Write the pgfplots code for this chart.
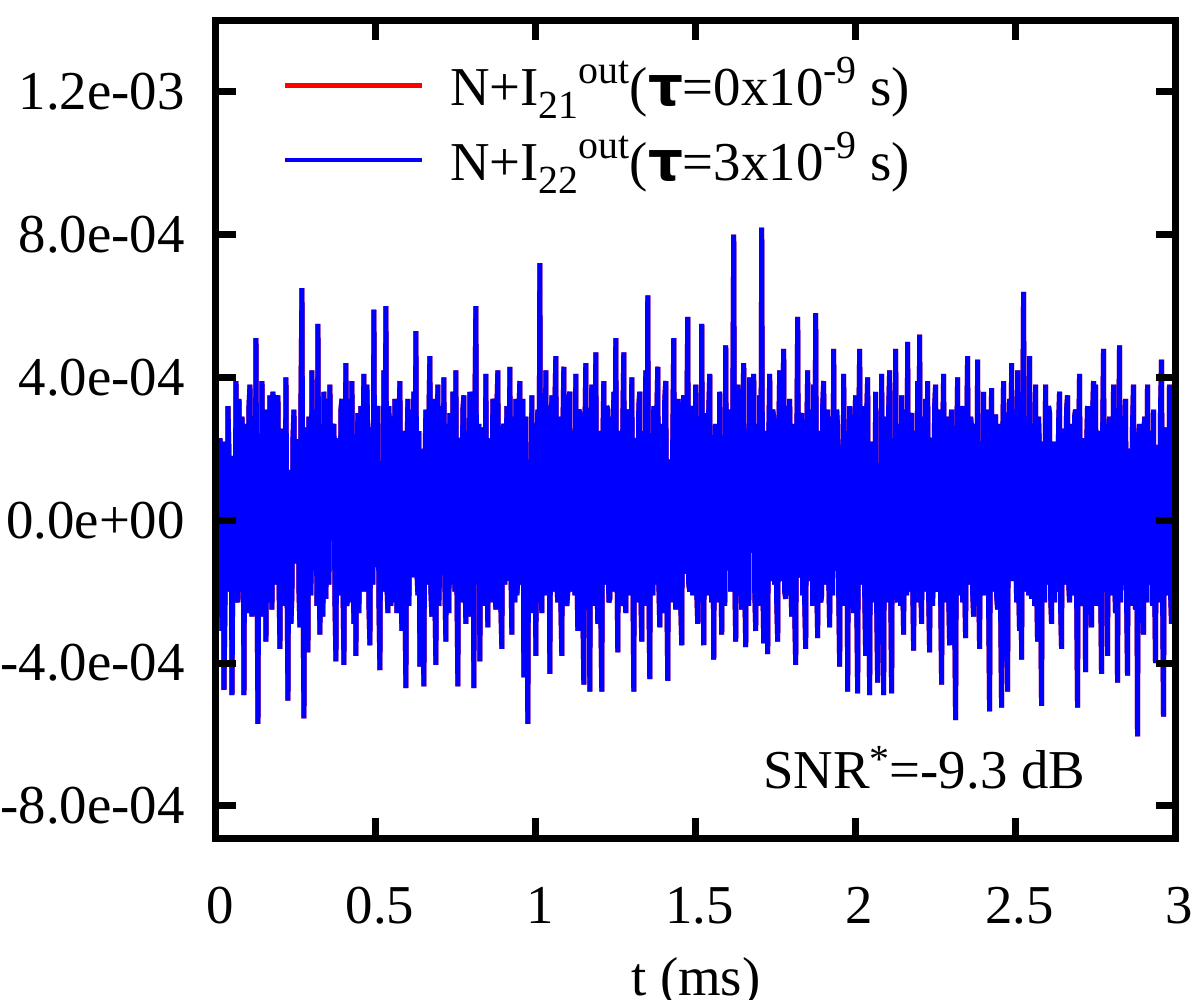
\documentclass[border=0pt]{standalone}
\usepackage{pgfplots}
\usepackage{pgfplotstable}
\pgfplotsset{compat=1.18}
\usepackage{fontspec}
\setmainfont{Liberation Serif}
\newfontfamily\taufont{DejaVu Sans}
\newcommand\lsub[1]{\raisebox{-6.5bp}{\fontsize{20}{20}\selectfont #1}}
\newcommand\lsup[1]{\raisebox{11bp}{\fontsize{20}{20}\selectfont #1}}
\newcommand\tauc{{\taufont\bfseries τ}}

\pgfplotstableread[row sep=\\]{y\\
3.4\\ -1.2\\ -1.6\\ 0.9\\ 2.3\\ -1.5\\ -3.1\\ 2.2\\ -4.75\\ -2.4\\ 1.2\\ -2.0\\ 3.2\\ 1.8\\ -0.8\\ 1.6\\ -4.9\\ -0.6\\ 1.8\\ -1.7\\
3.9\\ -2.1\\ -2.3\\ 3.4\\ 0.5\\ -1.8\\ 2.9\\ 1.1\\ -4.9\\ 2.7\\ 1.4\\ -2.6\\ -1.0\\ 3.2\\ 3.8\\ -1.4\\ -2.7\\ 2.9\\ 0.4\\ -2.3\\
5.1\\ -1.5\\ -5.7\\ 1.3\\ 2.1\\ -2.7\\ 3.9\\ 0.7\\ -1.8\\ 3.1\\ -3.4\\ 2.3\\ 1.0\\ -2.3\\ 3.5\\ -0.5\\ -2.5\\ 3.6\\ 1.6\\ -1.8\\
-0.7\\ 3.2\\ 3.5\\ -1.7\\ -3.6\\ 2.5\\ 2.5\\ -2.4\\ 0.3\\ -1.5\\ 4.0\\ -1.4\\ -5.05\\ 1.4\\ 1.3\\ -2.9\\ -2.1\\ 2.3\\ 3.1\\ -1.1\\
-1.2\\ 2.2\\ 2.2\\ -2.0\\ -3.0\\ 3.4\\ 6.5\\ -1.8\\ -5.55\\ 1.6\\ 2.6\\ -1.2\\ -3.7\\ 2.9\\ 0.8\\ -2.1\\ 4.2\\ -0.9\\ -1.4\\ 3.1\\
2.0\\ -2.4\\ 5.5\\ -1.1\\ -3.2\\ 2.7\\ 0.1\\ -2.7\\ 3.6\\ -0.8\\ -2.2\\ 3.4\\ 1.7\\ -1.8\\ 3.8\\ -0.5\\ -0.5\\ 2.5\\ 2.7\\ -2.3\\
-3.95\\ 1.1\\ 2.3\\ -2.1\\ -0.9\\ 3.1\\ 3.4\\ -1.7\\ -4.05\\ 1.4\\ 4.4\\ -2.4\\ -1.7\\ 3.4\\ 1.2\\ -2.3\\ 3.9\\ -1.1\\ -2.9\\ 2.3\\
-3.8\\ 1.6\\ 3.0\\ -2.6\\ 0.7\\ 3.2\\ -2.0\\ 2.0\\ 4.1\\ -2.0\\ -0.3\\ 3.8\\ 2.1\\ -2.4\\ -3.5\\ 1.3\\ 2.6\\ -1.8\\ 5.9\\ -1.2\\
-1.3\\ 2.9\\ 3.2\\ -2.3\\ -4.2\\ 1.6\\ 1.4\\ -2.0\\ 4.2\\ -0.6\\ 6.0\\ -1.8\\ -2.6\\ 3.2\\ 0.9\\ -2.4\\ 2.9\\ -0.9\\ -2.3\\ 3.4\\
1.8\\ -2.6\\ -0.4\\ 2.7\\ 3.9\\ -1.7\\ -3.1\\ 2.3\\ 2.5\\ -2.1\\ -4.7\\ 1.8\\ 3.4\\ -2.4\\ 0.3\\ 3.1\\ -1.6\\ 2.2\\ 3.6\\ -1.5\\
5.3\\ -1.4\\ -2.1\\ 2.5\\ -4.1\\ 2.0\\ 1.3\\ -2.3\\ -4.65\\ 1.4\\ 3.1\\ -1.8\\ 0.5\\ 2.9\\ 4.6\\ -2.0\\ -2.7\\ 3.4\\ 2.0\\ -2.1\\
-4.05\\ 1.8\\ 3.8\\ -2.4\\ -1.0\\ 3.2\\ 2.2\\ -1.5\\ 4.0\\ -1.8\\ -3.4\\ 2.7\\ 0.8\\ -2.6\\ 3.0\\ -0.8\\ -1.8\\ 3.6\\ 1.6\\ -2.0\\
4.2\\ -1.7\\ -4.65\\ 2.2\\ 2.3\\ -2.3\\ -0.7\\ 3.1\\ 3.5\\ -1.4\\ -2.9\\ 2.5\\ 1.2\\ -2.7\\ 3.6\\ -0.9\\ -2.2\\ 2.0\\ -4.7\\ 2.9\\
6.0\\ -1.8\\ -1.4\\ 2.7\\ -3.95\\ 1.3\\ 2.6\\ -2.4\\ 0.4\\ -2.1\\ 4.1\\ -1.2\\ -3.0\\ 2.3\\ 1.8\\ -2.3\\ -0.8\\ 3.4\\ 3.2\\ -1.7\\
-2.5\\ 3.1\\ 4.2\\ -2.0\\ 1.0\\ -2.4\\ -3.6\\ 2.5\\ 2.7\\ -1.8\\ -0.5\\ 3.2\\ 2.1\\ -1.7\\ 4.3\\ -1.1\\ -3.2\\ 2.9\\ 0.7\\ -2.3\\
3.4\\ -2.1\\ -1.7\\ 2.9\\ 3.9\\ -1.8\\ -1.2\\ 3.4\\ -4.4\\ 1.4\\ 2.9\\ -1.5\\ -5.7\\ 1.1\\ 1.7\\ -2.6\\ 3.5\\ -1.4\\ -2.1\\ 2.7\\
-3.8\\ 2.0\\ 3.1\\ -2.3\\ 7.2\\ -1.5\\ -2.6\\ 2.9\\ 1.3\\ -2.1\\ 4.2\\ -1.4\\ -0.9\\ 3.2\\ -4.3\\ 0.9\\ 3.5\\ -2.0\\ 0.5\\ 3.1\\
4.6\\ -1.8\\ -2.3\\ 2.9\\ 2.5\\ -2.3\\ -3.8\\ 2.3\\ 4.3\\ -1.5\\ 0.1\\ -2.4\\ -2.0\\ 3.4\\ 3.6\\ -2.0\\ -0.4\\ 2.5\\ 2.2\\ -2.1\\
4.1\\ -1.2\\ -3.1\\ 3.1\\ 3.0\\ -2.1\\ 0.8\\ -2.3\\ -4.6\\ 2.2\\ 4.4\\ -2.0\\ -1.3\\ 2.7\\ -4.8\\ 1.6\\ 3.8\\ -2.4\\ 1.6\\ -1.7\\
4.7\\ -1.5\\ -2.9\\ 2.5\\ 1.0\\ -2.6\\ -4.8\\ 2.0\\ 3.9\\ -1.8\\ -0.7\\ 3.2\\ 3.1\\ -2.3\\ -2.2\\ 2.9\\ 2.0\\ -2.0\\ 3.6\\ -0.9\\
5.1\\ -0.6\\ -3.7\\ 1.6\\ 2.5\\ -2.4\\ -1.2\\ 2.7\\ 4.7\\ -1.7\\ -2.6\\ 3.1\\ 2.9\\ -2.1\\ 0.4\\ -1.8\\ 4.0\\ -1.1\\ -4.8\\ 2.3\\
2.1\\ -2.3\\ -1.6\\ 3.2\\ 3.6\\ -2.0\\ -3.4\\ 2.5\\ 0.9\\ -2.4\\ 4.2\\ -1.4\\ 6.3\\ -1.8\\ -4.45\\ 1.4\\ 1.3\\ -2.1\\ 3.2\\ -1.5\\
-1.8\\ 2.9\\ 4.3\\ -1.7\\ -3.0\\ 2.7\\ 2.3\\ -2.6\\ 0.3\\ 3.4\\ 3.9\\ -1.8\\ -4.5\\ 1.3\\ 1.7\\ -2.3\\ -0.8\\ 2.3\\ 5.1\\ -1.2\\
-2.5\\ 2.5\\ 3.4\\ -2.0\\ 1.2\\ -2.4\\ -3.5\\ 3.1\\ 3.5\\ -1.5\\ -1.0\\ 2.7\\ 5.7\\ -1.8\\ -2.0\\ 3.2\\ 2.6\\ -2.1\\ 0.7\\ -1.7\\
3.8\\ -2.0\\ -2.9\\ 2.9\\ 1.8\\ -2.3\\ 5.5\\ -0.9\\ -3.5\\ 1.6\\ 3.0\\ -2.1\\ -0.5\\ 3.1\\ 4.1\\ -1.5\\ -2.3\\ 2.0\\ -3.9\\ 1.4\\
2.7\\ -1.8\\ 0.8\\ -2.3\\ 3.6\\ -1.1\\ -3.2\\ 2.3\\ 2.2\\ -2.4\\ 4.9\\ -1.2\\ -1.4\\ 2.7\\ 3.1\\ -2.0\\ -0.3\\ 2.9\\ 8.0\\ -1.5\\
-3.4\\ 2.2\\ 3.8\\ -2.1\\ 1.0\\ -1.7\\ -2.5\\ 3.1\\ 4.4\\ -1.8\\ -3.55\\ 1.6\\ 2.0\\ -2.4\\ 4.0\\ -0.8\\ -0.9\\ 3.2\\ 4.1\\ -2.0\\
-3.1\\ 2.7\\ 1.6\\ -2.4\\ 3.5\\ -1.4\\ 8.2\\ -1.5\\ -3.45\\ 2.5\\ 1.2\\ -2.3\\ -3.75\\ 2.2\\ 4.1\\ -1.2\\ -1.7\\ 3.1\\ 2.9\\ -1.8\\
0.5\\ -2.3\\ -3.4\\ 2.3\\ 4.2\\ -1.7\\ -0.7\\ 2.9\\ 4.8\\ -2.0\\ -2.2\\ 3.2\\ 2.5\\ -2.1\\ 3.4\\ -1.4\\ -2.7\\ 2.7\\ 0.9\\ -2.6\\
-4.05\\ 1.8\\ 5.7\\ -1.4\\ -1.6\\ 2.9\\ 3.0\\ -2.1\\ 0.4\\ -2.3\\ -3.6\\ 2.2\\ 4.2\\ -1.7\\ -0.8\\ 3.1\\ 2.3\\ -2.4\\ 3.8\\ -1.1\\
5.8\\ -1.7\\ -3.3\\ 2.5\\ 1.4\\ -2.3\\ -2.1\\ 3.2\\ 3.9\\ -1.8\\ -0.4\\ 2.7\\ 3.1\\ -1.5\\ -3.0\\ 2.9\\ 1.7\\ -2.1\\ 4.8\\ -1.4\\
-1.3\\ 3.1\\ 2.6\\ -2.0\\ -4.1\\ 2.0\\ 2.1\\ -2.4\\ 4.1\\ -1.2\\ -1.0\\ 2.5\\ -4.8\\ 1.1\\ 3.2\\ -2.3\\ 0.3\\ -1.8\\ -2.6\\ 2.7\\
3.5\\ -2.1\\ -4.85\\ 2.2\\ 4.8\\ -1.5\\ -1.8\\ 3.2\\ 1.3\\ -2.0\\ -3.8\\ 2.9\\ 4.0\\ -1.8\\ -4.9\\ 1.8\\ 2.2\\ -2.3\\ 0.5\\ -1.7\\
3.6\\ -2.4\\ -4.55\\ 1.4\\ 1.6\\ -2.1\\ 4.1\\ -1.4\\ -4.9\\ 2.0\\ 2.9\\ -2.3\\ -0.9\\ 3.1\\ 4.2\\ -1.8\\ -4.85\\ 2.3\\ 2.0\\ -1.5\\
4.8\\ -1.8\\ -2.3\\ 2.7\\ 0.8\\ -2.4\\ 3.5\\ -1.5\\ -3.2\\ 3.1\\ 1.4\\ -2.1\\ 5.0\\ -2.0\\ -1.2\\ 2.9\\ 3.0\\ -1.7\\ -3.65\\ 2.5\\
1.8\\ -2.3\\ 3.9\\ -1.2\\ 5.2\\ -1.7\\ -2.9\\ 2.9\\ 0.7\\ -2.0\\ 3.4\\ -1.1\\ 3.9\\ -2.1\\ -3.7\\ 2.2\\ 2.3\\ -2.4\\ -0.5\\ 3.2\\
3.8\\ -1.8\\ -2.0\\ 3.1\\ 1.3\\ -2.1\\ -4.6\\ 2.0\\ 4.1\\ -2.3\\ -0.8\\ 2.9\\ 2.5\\ -2.0\\ -3.5\\ 2.5\\ 3.1\\ -1.5\\ 1.0\\ -2.4\\
-5.6\\ 1.8\\ 4.0\\ -2.1\\ -1.6\\ 3.2\\ 2.1\\ -2.3\\ 3.2\\ -1.7\\ -3.3\\ 2.3\\ 4.6\\ -1.8\\ -1.2\\ 2.9\\ 2.6\\ -2.0\\ -2.7\\ 2.7\\
1.7\\ -2.4\\ 4.5\\ -1.5\\ -3.6\\ 2.2\\ 0.9\\ -2.1\\ 3.6\\ -1.8\\ -2.1\\ 3.1\\ 2.0\\ -2.3\\ -5.35\\ 1.6\\ 3.7\\ -2.0\\ -0.3\\ 2.9\\
2.9\\ -2.1\\ -2.5\\ 2.7\\ 1.2\\ -2.4\\ -5.25\\ 2.0\\ 3.9\\ -1.8\\ 1.6\\ -2.3\\ -4.8\\ 2.3\\ 3.4\\ -1.7\\ 4.4\\ -1.4\\ -1.7\\ 3.1\\
0.7\\ -2.3\\ 4.2\\ -1.8\\ -3.1\\ 2.5\\ -3.9\\ 1.6\\ 6.4\\ -2.0\\ -1.0\\ 2.9\\ 2.7\\ -2.1\\ 4.6\\ -1.5\\ -2.2\\ 2.7\\ 1.3\\ -2.4\\
3.8\\ -1.7\\ -3.4\\ 2.9\\ 1.8\\ -2.0\\ -5.2\\ 2.2\\ 0.4\\ -2.3\\ 3.8\\ -1.8\\ -1.4\\ 3.2\\ 3.0\\ -2.1\\ -2.9\\ 2.0\\ 2.2\\ -2.3\\
0.8\\ -2.0\\ -1.8\\ 2.7\\ 3.6\\ -2.4\\ -3.6\\ 2.5\\ 2.5\\ -1.8\\ 0.1\\ 3.1\\ 3.5\\ -1.7\\ -2.3\\ 2.7\\ 1.4\\ -2.1\\ -0.7\\ 2.9\\
3.1\\ -1.8\\ -5.25\\ 1.8\\ 4.1\\ -2.1\\ 1.0\\ -2.4\\ -2.0\\ 2.3\\ -4.25\\ 2.0\\ 3.2\\ -2.3\\ 1.6\\ -1.8\\ -3.0\\ 2.9\\ 3.9\\ -2.0\\
3.8\\ -2.4\\ -1.2\\ 2.5\\ 2.1\\ -1.7\\ -4.3\\ 2.2\\ 4.8\\ -2.0\\ -1.6\\ 2.7\\ -3.8\\ 1.4\\ 2.9\\ -2.1\\ 0.5\\ -1.8\\ 3.8\\ -1.5\\
-2.6\\ 2.3\\ -4.55\\ 1.6\\ 4.9\\ -2.3\\ -0.8\\ 2.9\\ 2.3\\ -1.8\\ 3.4\\ -2.1\\ -4.35\\ 2.0\\ 1.7\\ -2.4\\ -0.3\\ 2.7\\ 3.8\\ -1.7\\
-2.5\\ 2.2\\ -6.05\\ 1.8\\ 2.7\\ -2.1\\ 0.9\\ -2.0\\ -3.2\\ 2.9\\ 2.0\\ -2.3\\ 3.8\\ -1.8\\ -1.4\\ 2.5\\ 0.7\\ -2.4\\ 3.1\\ -1.5\\
-4.0\\ 2.0\\ 2.1\\ -2.3\\ -1.7\\ 3.1\\ 4.5\\ -1.8\\ -5.5\\ 1.8\\ 2.6\\ -2.1\\ 1.0\\ -1.7\\ 3.8\\ -2.0\\ -2.9\\ 2.7\\ 2.2\\ -1.4\\
}\noisedata

\begin{document}
\fontsize{27.5}{33}\selectfont
\begin{tikzpicture}
\begin{axis}[
  name=ax,
  scale only axis,
  width=479.75bp, height=408.75bp,
  xmin=0, xmax=3, ymin=-8.9, ymax=14,
  axis on top,
  axis line style={line width=3.5bp, line cap=rect},
  xtick={0,0.5,1,1.5,2,2.5,3},
  xticklabels={0,0.5,1,1.5,2,2.5,3},
  ytick={-8,-4,0,4,8,12},
  yticklabels={-8.0e-04,-4.0e-04,0.0e+00,4.0e-04,8.0e-04,1.2e-03},
  tick align=inside,
  major tick length=10bp,
  minor tick num=0,
  tick style={line width=3.5bp, black},
  xticklabel style={yshift=-15.3bp, xshift=2bp},
  yticklabel style={xshift=-6.3bp},
  xlabel={t (ms)},
  xlabel style={at={(axis description cs:0.5,0)}, anchor=base, yshift=-78.5bp, inner sep=0pt},
  legend style={draw=none, fill=none, inner sep=0pt, outer sep=0pt,
    at={(rel axis cs:0.0698,0.9553)}, anchor=north west,
    row sep=9bp, nodes={inner sep=0pt}},
  legend cell align=left,
  legend image code/.code={\draw[#1, line width=2.3bp] (0bp,0bp) -- (68.5bp,0bp);
    \draw[draw=none] (68.5bp,0bp) -- (82.5bp,0bp);},
]
\addplot[color=red, line width=2.5bp, line join=miter, miter limit=2] table[x expr=\coordindex/320, y=y] {\noisedata};
\addlegendentry{N+I\lsub{21}\lsup{out}(\tauc=0x10\lsup{-9} s)}
\addplot[color=blue, line width=2.5bp, line join=miter, miter limit=2] table[x expr=\coordindex/320, y=y] {\noisedata};
\addlegendentry{N+I\lsub{22}\lsup{out}(\tauc=3x10\lsup{-9} s)}
\node[anchor=base west, inner sep=0pt] at (axis cs:1.710,-7.51) {SNR\raisebox{8bp}{\fontsize{20}{20}\selectfont *}=-9.3 dB};
\end{axis}
\pgfresetboundingbox
\path[use as bounding box] ([shift={(-108bp,-81bp)}]ax.south west) rectangle ([shift={(12.25bp,10.25bp)}]ax.north east);
\end{tikzpicture}
\end{document}
